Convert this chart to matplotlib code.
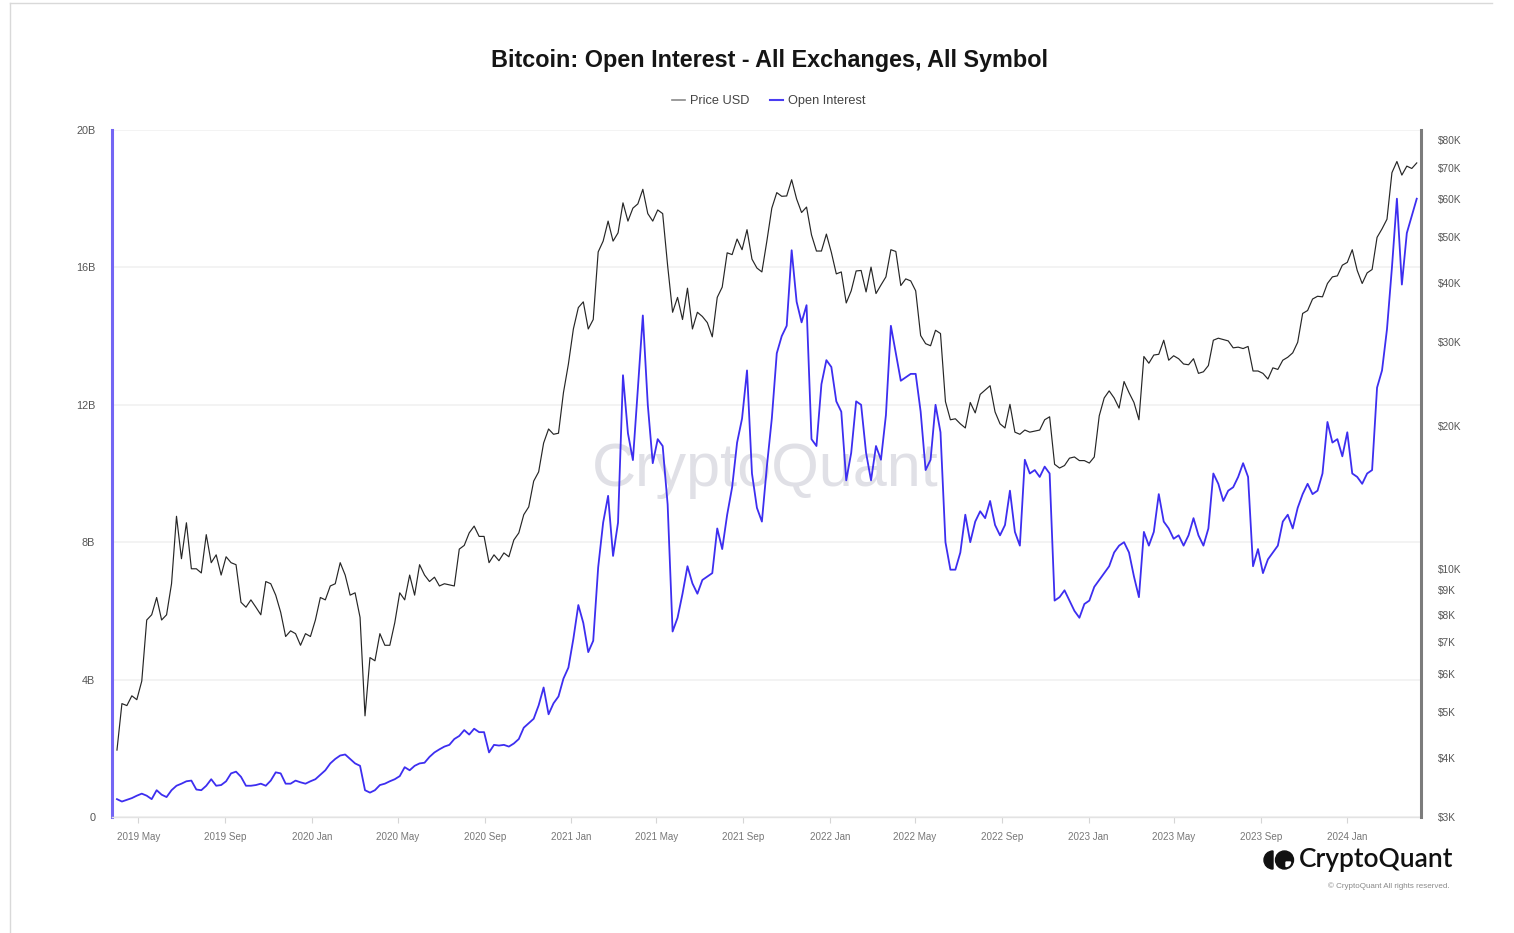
import pandas as pd
import matplotlib
matplotlib.use('Agg')
import matplotlib.pyplot as plt
from matplotlib.lines import Line2D
from matplotlib.ticker import FixedLocator, NullLocator
from matplotlib.patches import Wedge, Circle

# ---------------- data (weekly samples) ----------------
start_date = '2019-04-01'

price_usd = [
    # 2019
    4150, 5200, 5150, 5400, 5300, 5800, 7800, 8000, 8700, 7800, 8000, 9300, 12900,
    10500, 12500, 10000, 10000, 9800, 11800, 10300, 10700, 9700, 10600, 10300, 10200,
    8500, 8300, 8600, 8300, 8000, 9400, 9300, 8800, 8100, 7200, 7400, 7300, 6900, 7300, 7200,
    # 2020
    7800, 8700, 8600, 9200, 9300, 10300, 9700, 8800, 8900, 7900, 4900, 6500, 6400,
    7300, 6900, 6900, 7700, 8900, 8600, 9700, 8800, 10200, 9700, 9400, 9600, 9200,
    9300, 9250, 9200, 11000, 11200, 11900, 12300, 11700, 11700, 10300, 10700, 10400, 10800,
    10600, 11500, 11900, 13000, 13500, 15300, 16000, 18400, 19700, 19200, 19300, 23500, 27000,
    # 2021
    32000, 35500, 36500, 32000, 33500, 46500, 49000, 54000, 49000, 51000, 59000, 54000, 57500,
    58700, 63000, 56000, 54000, 57000, 56000, 43500, 34700, 37300, 33500, 39000, 32000, 34700,
    34000, 33000, 30800, 37300, 39200, 46300, 45900, 49500, 47000, 51800, 44900, 43000, 42200,
    49000, 57500, 62000, 60900, 61000, 66000, 60100, 56300, 57800, 50500, 46700, 46700, 50700,
    # 2022
    46400, 41800, 42200, 36300, 38500, 42400, 42500, 38300, 43200, 38000, 39600, 41200, 47000,
    46600, 39500, 40800, 40400, 38500, 31000, 29800, 29500, 31800, 31300, 22500, 20600, 20700,
    20200, 19800, 22400, 21300, 23300, 23800, 24300, 21400, 20200, 19800, 22200, 19400, 19200,
    19600, 19400, 19500, 19600, 20600, 20900, 16600, 16300, 16500, 17100, 17200, 16900, 16900,
    # 2023
    16700, 17200, 21000, 22900, 23700, 22900, 21800, 24800, 23500, 22400, 20600, 28000, 27100,
    28200, 28300, 30300, 27500, 28100, 27700, 27000, 26900, 27700, 25800, 26000, 26800, 30300,
    30600, 30400, 30200, 29200, 29300, 29100, 29400, 26100, 26100, 25800, 25100, 26500, 26300,
    27500, 27900, 28500, 30000, 34500, 35000, 37000, 37500, 37400, 39900, 41200, 41400, 43600,
    # 2024
    44200, 47000, 42500, 39900, 42000, 42700, 49900, 52000, 54500, 68300, 72100, 67500, 70500,
    69700, 71600,
]

open_interest_b = [
    0.52, 0.45, 0.50, 0.55, 0.62, 0.68, 0.62, 0.52, 0.78, 0.65,
    0.58, 0.78, 0.91, 0.97, 1.04, 1.06, 0.80, 0.78, 0.91, 1.10,
    0.91, 0.93, 1.04, 1.27, 1.32, 1.17, 0.91, 0.91, 0.93, 0.97,
    0.91, 1.06, 1.30, 1.27, 0.97, 0.97, 1.06, 1.01, 0.97, 1.04,
    1.10, 1.23, 1.36, 1.56, 1.69, 1.79, 1.82, 1.69, 1.56, 1.49,
    0.78, 0.71, 0.78, 0.93, 0.97, 1.04, 1.10, 1.19, 1.45, 1.36,
    1.49, 1.56, 1.58, 1.75, 1.88, 1.97, 2.05, 2.10, 2.27, 2.36,
    2.53, 2.40, 2.57, 2.47, 2.47, 1.88, 2.10, 2.08, 2.10, 2.05,
    2.14, 2.27, 2.60, 2.73, 2.86, 3.25, 3.77, 2.99, 3.31, 3.51,
    4.03, 4.35, 5.19, 6.17, 5.65, 4.80, 5.13, 7.27, 8.57, 9.35,
    7.60, 8.57, 12.86, 11.17, 10.39, 12.47, 14.60, 12.0, 10.3, 11.0,
    10.8, 9.1, 5.4, 5.8, 6.5, 7.3, 6.8, 6.5, 6.9, 7.0,
    7.1, 8.4, 7.8, 8.8, 9.6, 10.9, 11.6, 13.0, 10.0, 9.0,
    8.6, 10.2, 11.6, 13.5, 14.0, 14.3, 16.5, 15.0, 14.4, 14.9,
    11.0, 10.8, 12.6, 13.3, 13.1, 12.1, 11.8, 9.8, 10.6, 12.1,
    12.0, 10.6, 9.8, 10.8, 10.4, 11.7, 14.3, 13.5, 12.7, 12.8,
    12.9, 12.9, 11.8, 10.1, 10.4, 12.0, 11.2, 8.0, 7.2, 7.2,
    7.7, 8.8, 8.0, 8.6, 8.9, 8.7, 9.2, 8.5, 8.2, 8.5,
    9.5, 8.3, 7.9, 10.4, 10.0, 10.1, 9.9, 10.2, 10.0, 6.3,
    6.4, 6.6, 6.3, 6.0, 5.8, 6.2, 6.3, 6.7, 6.9, 7.1,
    7.3, 7.7, 7.9, 8.0, 7.7, 7.0, 6.4, 8.3, 7.9, 8.3,
    9.4, 8.6, 8.4, 8.1, 8.2, 7.9, 8.2, 8.7, 8.2, 7.9,
    8.4, 10.0, 9.7, 9.2, 9.5, 9.6, 9.9, 10.3, 9.9, 7.3,
    7.8, 7.1, 7.5, 7.7, 7.9, 8.6, 8.8, 8.4, 9.0, 9.4,
    9.7, 9.4, 9.5, 10.0, 11.5, 10.9, 11.0, 10.5, 11.2, 10.0,
    9.9, 9.7, 10.0, 10.1, 12.5, 13.0, 14.2, 16.0, 18.0, 15.5,
    17.0, 17.5, 18.0,
]

x_tick_dates = ['2019-05-01', '2019-09-01', '2020-01-01', '2020-05-01', '2020-09-01',
                '2021-01-01', '2021-05-01', '2021-09-01', '2022-01-01', '2022-05-01',
                '2022-09-01', '2023-01-01', '2023-05-01', '2023-09-01', '2024-01-01']
x_tick_labels = ['2019 May', '2019 Sep', '2020 Jan', '2020 May', '2020 Sep',
                 '2021 Jan', '2021 May', '2021 Sep', '2022 Jan', '2022 May',
                 '2022 Sep', '2023 Jan', '2023 May', '2023 Sep', '2024 Jan']
left_ticks = [0, 4, 8, 12, 16, 20]
left_tick_labels = ['0', '4B', '8B', '12B', '16B', '20B']
right_ticks = [3000, 4000, 5000, 6000, 7000, 8000, 9000, 10000,
               20000, 30000, 40000, 50000, 60000, 70000, 80000]
right_tick_labels = ['$3K', '$4K', '$5K', '$6K', '$7K', '$8K', '$9K', '$10K',
                     '$20K', '$30K', '$40K', '$50K', '$60K', '$70K', '$80K']

title = 'Bitcoin: Open Interest - All Exchanges, All Symbol'

assert len(price_usd) == len(open_interest_b)
dates = pd.date_range(start_date, periods=len(price_usd), freq='7D')

# ---------------- figure ----------------
plt.rcParams['font.family'] = ['Liberation Sans', 'DejaVu Sans']
W, H = 1514, 933
fig = plt.figure(figsize=(W / 100, H / 100), dpi=100, facecolor='white')

L, R, T, B = 112, 1421, 130, 817
ax = fig.add_axes([L / W, 1 - B / H, (R - L) / W, (B - T) / H])
ax2 = ax.twinx()

OI_COLOR = '#3d2ef0'
PRICE_COLOR = '#262626'

ax.plot(dates, open_interest_b, color=OI_COLOR, lw=1.3, zorder=3)
ax2.plot(dates, price_usd, color=PRICE_COLOR, lw=0.85, zorder=3)

ax.set_ylim(0, 20)
ax2.set_yscale('log')
ax2.set_ylim(3000, 84000)
ax.set_xlim(pd.Timestamp('2019-03-25'), pd.Timestamp('2024-04-14'))

# watermark
ax.text(0.499, 0.505, 'CryptoQuant', transform=ax.transAxes, ha='center', va='center',
        fontsize=44, color='#e0e0e6', zorder=0)

# grid
ax.set_yticks(left_ticks)
ax.set_yticklabels(left_tick_labels)
ax.yaxis.grid(True, color='#f1f1f1', lw=1.2)
ax.set_axisbelow(True)
ax.tick_params(axis='y', length=0, pad=12, labelsize=7.8, labelcolor='#555555')

ax2.yaxis.set_major_locator(FixedLocator(right_ticks))
ax2.yaxis.set_minor_locator(NullLocator())
ax2.set_yticklabels(right_tick_labels)
ax2.tick_params(axis='y', length=0, pad=12, labelsize=7.3, labelcolor='#555555')

ax.set_xticks(pd.to_datetime(x_tick_dates))
ax.set_xticklabels(x_tick_labels)
ax.tick_params(axis='x', length=4, color='#d5d5d5', labelsize=7.1, labelcolor='#777777', pad=7)

for s in ['top', 'right']:
    ax.spines[s].set_visible(False)
ax.spines['left'].set_color('#7466f4')
ax.spines['left'].set_linewidth(2.2)
ax.spines['bottom'].set_color('#e3e3e3')
ax.spines['bottom'].set_linewidth(1)
for s in ['top', 'left', 'bottom']:
    ax2.spines[s].set_visible(False)
ax2.spines['right'].set_color('#7c7c7c')
ax2.spines['right'].set_linewidth(2.2)

# title and legend
fig.text(769 / W, 1 - 60 / H, title, ha='center', va='center', fontsize=16.8,
         fontweight='bold', color='#151515')
handles = [Line2D([], [], color='#8a8a8a', lw=1.2), Line2D([], [], color='#4a3df2', lw=1.5)]
fig.legend(handles, ['Price USD', 'Open Interest'], loc='center',
           bbox_to_anchor=(769 / W, 1 - 101 / H), ncol=2, frameon=False, fontsize=9.2,
           handlelength=1.0, handletextpad=0.4, columnspacing=1.6, labelcolor='#444444')

# overlay for logo and frame
ov = fig.add_axes([0, 0, 1, 1], zorder=10)
ov.set_xlim(0, W)
ov.set_ylim(H, 0)
ov.axis('off')
ov.patch.set_alpha(0)
ov.plot([10, 10], [3, H], color='#d9d9d9', lw=1)
ov.plot([10, 1492], [3, 3], color='#d9d9d9', lw=1)

ov.add_patch(Wedge((1273, 860), 9, 90, 270, color='#111111'))
ov.add_patch(Circle((1284.5, 860), 9, color='#111111'))
ov.add_patch(Wedge((1286, 862), 4.5, 0, 90, color='white'))
ov.text(1299, 860, 'CryptoQuant', ha='left', va='center', fontsize=19,
        family=['Lato', 'DejaVu Sans'], fontweight='semibold', color='#111111')
ov.text(1450, 886, '\u00a9 CryptoQuant All rights reserved.', ha='right', va='center',
        fontsize=5.8, color='#8a8a8a')

fig.savefig('out.png', dpi=100, facecolor='white')
